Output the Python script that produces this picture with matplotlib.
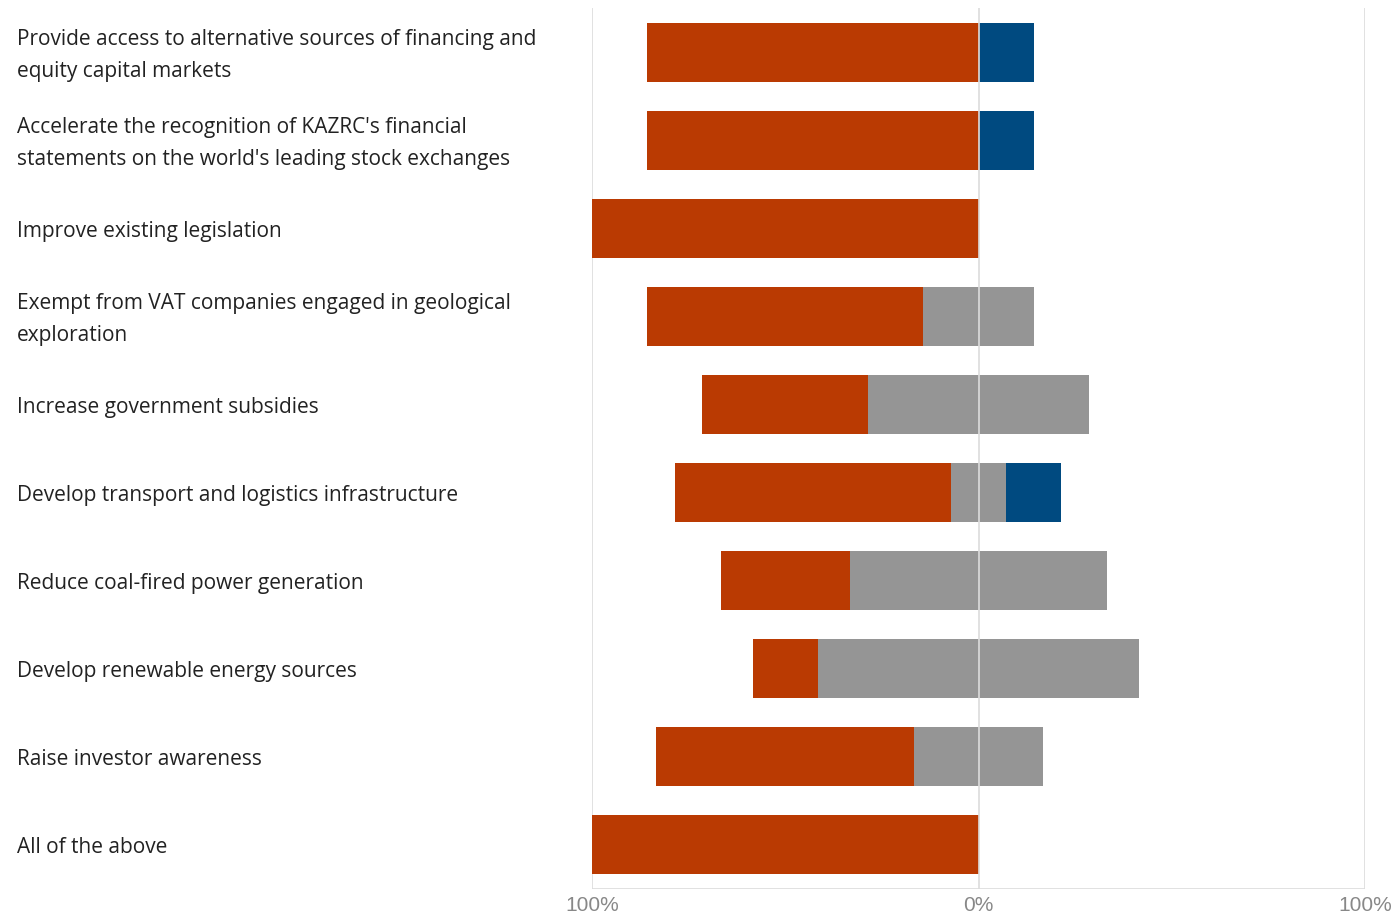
import matplotlib
matplotlib.use("Agg")
import matplotlib.pyplot as plt
import numpy as np
from matplotlib.transforms import blended_transform_factory, ScaledTranslation

categories = [
    "Provide access to alternative sources of financing and\nequity capital markets",
    "Accelerate the recognition of KAZRC's financial\nstatements on the world's leading stock exchanges",
    "Improve existing legislation",
    "Exempt from VAT companies engaged in geological\nexploration",
    "Increase government subsidies",
    "Develop transport and logistics infrastructure",
    "Reduce coal-fired power generation",
    "Develop renewable energy sources",
    "Raise investor awareness",
    "All of the above",
]
# shares of answers, in percent
negative = [85.7, 85.7, 100.0, 71.4, 42.9, 71.4, 33.3, 16.7, 66.7, 100.0]
neutral = [0.0, 0.0, 0.0, 28.6, 57.1, 14.3, 66.7, 83.3, 33.3, 0.0]
positive = [14.3, 14.3, 0.0, 0.0, 0.0, 14.3, 0.0, 0.0, 0.0, 0.0]
tick_values = [-100, 0, 100]
tick_labels = ["100%", "0%", "100%"]

RED = "#BA3A02"
GRAY = "#959595"
BLUE = "#004A80"

neg = np.array(negative)
neu = np.array(neutral)
pos = np.array(positive)
y = np.arange(len(categories))

fig = plt.figure(figsize=(13.94, 9.17), dpi=100)
ax = fig.add_axes([592 / 1394, 1 - 889 / 917, (1365 - 592) / 1394, (889 - 8) / 917])

h = 0.67
# neutral share is split evenly around zero
ax.barh(y, -neg, left=-neu / 2, height=h, color=RED, zorder=2)
ax.barh(y, neu / 2, left=-neu / 2, height=h, color=GRAY, zorder=2)
ax.barh(y, neu / 2, left=0, height=h, color=GRAY, zorder=2)
ax.barh(y, pos, left=neu / 2, height=h, color=BLUE, zorder=2)

ax.set_xlim(-100, 100)
ax.set_ylim(len(categories) - 0.5, -0.5)
for xv in tick_values:
    ax.axvline(xv, color="#DCDCDC", lw=1.2, zorder=4 if xv == 0 else 1)
ax.axhline(len(categories) - 0.5, color="#DCDCDC", lw=1.2, zorder=1)

for s in ax.spines.values():
    s.set_visible(False)
ax.set_yticks([])
ax.set_xticks(tick_values)
ax.set_xticklabels(tick_labels, fontsize=15, color="#888888", family="Liberation Sans")
ax.tick_params(axis="x", length=0, pad=5)

trans = blended_transform_factory(fig.transFigure, ax.transData)
trans = trans + ScaledTranslation(0, -3 / 100, fig.dpi_scale_trans)
for yi, label in zip(y, categories):
    ax.text(17 / 1394, yi, label, transform=trans, ha="left", va="center",
            fontsize=15, color="#222222", family="Open Sans", linespacing=1.69)

fig.savefig("out.png", dpi=100, facecolor="white")
